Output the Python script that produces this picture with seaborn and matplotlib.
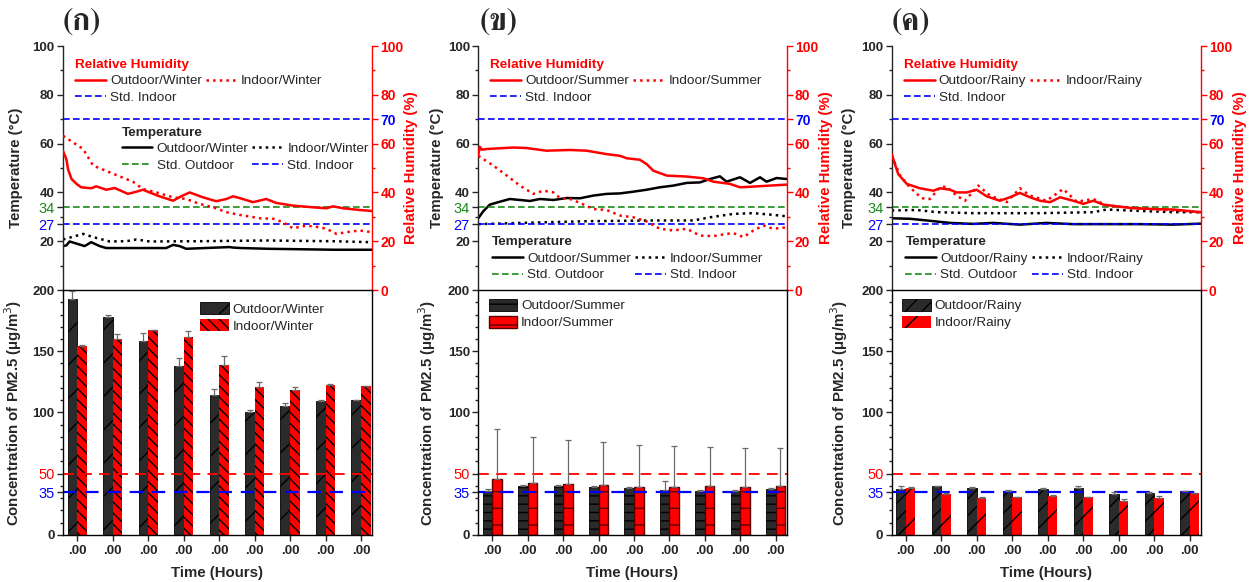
import matplotlib
matplotlib.use("Agg")
import numpy as np
import pandas as pd
import matplotlib.pyplot as plt
import seaborn as sns
from matplotlib import font_manager as fm
from matplotlib.ticker import FixedLocator, MultipleLocator

# ---------------- data ----------------
PANEL_TITLES = ["(ก)", "(ข)", "(ค)"]
SEASONS = ["Winter", "Summer", "Rainy"]
HOUR_LABELS = [".00", ".00", ".00", ".00", ".00", ".00", ".00", ".00", ".00"]

# Relative humidity / temperature time series (time in hours from start)
w_rh_out_t = [0, 0.09, 0.13, 0.22, 0.35, 0.47, 0.73, 0.86, 1.12, 1.34, 1.68, 1.90, 2.07, 2.24, 2.50, 2.85, 3.06,
              3.28, 3.62, 3.97, 4.23, 4.40, 4.57, 4.92, 5.26, 5.52, 5.95, 6.47, 6.82, 6.99, 7.25, 7.68, 8.0]
w_rh_out = [57, 53.5, 49.5, 45.5, 43.5, 42.1, 41.7, 42.5, 41.1, 41.8, 39.4, 40.3, 41.1, 40.0, 38.4, 36.6, 38.4,
            40.0, 38.0, 36.4, 37.3, 38.4, 37.7, 36.0, 37.3, 35.7, 34.6, 33.9, 33.5, 34.3, 33.5, 32.8, 32.4]
w_rh_in_t = [0, 0.52, 0.78, 1.21, 1.81, 2.07, 2.42, 2.85, 3.19, 3.54, 3.88, 4.23, 4.57, 5.09, 5.44, 5.70, 5.95,
             6.30, 6.65, 6.82, 7.08, 7.34, 7.68, 8.0]
w_rh_in = [63.2, 57.8, 51, 48.2, 44.4, 41.4, 40.0, 38, 37.3, 35.3, 33.9, 31.9, 30.8, 29.4, 29.2, 27.8, 25.3,
           26.4, 25.7, 25.1, 23, 23.7, 24.4, 23.7]
w_t_out_t = [0, 0.09, 0.17, 0.56, 0.73, 0.95, 1.12, 1.81, 2.67, 2.85, 3.02, 3.19, 4.31, 4.40, 4.62, 5.31, 6.17,
             7.04, 8.0]
w_t_out = [18.0, 18.3, 19.9, 18.0, 19.6, 18.0, 17.2, 17.2, 17.2, 18.5, 18.0, 16.9, 17.6, 17.4, 17.2, 16.9, 16.7,
           16.5, 16.5]
w_t_in_t = [0, 0.52, 0.78, 1.21, 1.64, 1.90, 2.24, 3.54, 5.26, 6.99, 8.0]
w_t_in = [20.7, 23.0, 21.7, 19.9, 20.0, 20.7, 19.9, 20.0, 20.3, 20.0, 19.6]

s_rh_out_t = [0, 0.04, 0.09, 0.22, 0.91, 1.25, 1.77, 2.38, 2.81, 3.33, 3.68, 3.85, 4.19, 4.37, 4.54, 4.89, 5.41,
              5.84, 6.10, 6.53, 6.79, 7.14, 7.57, 8.0]
s_rh_out = [55.5, 58.7, 57.5, 57.8, 58.4, 58.2, 57.1, 57.4, 57.1, 55.7, 55.0, 54.0, 53.4, 51.6, 48.9, 46.9, 46.5,
            45.8, 44.4, 43.5, 42.1, 42.4, 42.8, 43.2]
s_rh_in_t = [0, 0.39, 0.74, 1.08, 1.43, 1.69, 1.95, 2.12, 2.38, 2.64, 2.98, 3.33, 3.68, 4.02, 4.37, 4.71, 5.06,
             5.41, 5.75, 6.10, 6.44, 6.62, 6.88, 7.14, 7.40, 7.65, 8.0]
s_rh_in = [55, 51, 46.9, 42.8, 39.4, 40.7, 40, 37.7, 37.3, 35.7, 33.2, 32.8, 30.5, 29.8, 28.1, 25.1, 24.4,
           25.1, 22.3, 22.1, 23, 23.3, 21.7, 24.4, 26.4, 25.1, 25.7]
s_t_out_t = [0, 0.13, 0.30, 0.56, 0.82, 1.08, 1.34, 1.60, 1.95, 2.29, 2.64, 2.98, 3.33, 3.68, 4.02, 4.37, 4.71,
             5.06, 5.41, 5.75, 6.01, 6.27, 6.44, 6.79, 7.05, 7.31, 7.48, 7.74, 8.0]
s_t_out = [29.4, 32.3, 35, 36.2, 37.3, 36.9, 36.5, 37.3, 36.9, 37.7, 37.6, 38.7, 39.4, 39.6, 40.3, 41.1, 42.1,
           42.8, 43.9, 44.1, 45.5, 46.6, 44.4, 46.2, 43.9, 46.2, 44.4, 45.9, 45.5]
s_t_in_t = [0, 1.08, 2.81, 4.54, 5.58, 6.01, 6.62, 7.14, 7.65, 8.0]
s_t_in = [27.0, 27.5, 28.2, 28.5, 28.5, 29.8, 31.2, 31.5, 30.8, 30.2]

r_rh_out_t = [0, 0.17, 0.39, 0.73, 1.08, 1.25, 1.51, 1.68, 1.94, 2.20, 2.46, 2.80, 3.06, 3.32, 3.58, 3.84, 4.10,
              4.36, 4.70, 4.96, 5.22, 5.48, 5.83, 6.26, 6.77, 7.29, 8.0]
r_rh_out = [55.7, 47.5, 43.5, 41.7, 40.7, 41.7, 41.1, 40, 40, 41.1, 38.4, 36.6, 38, 39.8, 38, 36.6, 36,
            38, 36.6, 35.3, 36.6, 35, 34.3, 33.5, 33.2, 33, 31.9]
r_rh_in_t = [0, 0.22, 0.47, 0.78, 0.99, 1.25, 1.42, 1.68, 1.90, 2.24, 2.55, 2.98, 3.32, 3.58, 4.01, 4.44, 4.79,
             5.22, 5.57, 6.08, 6.77, 7.29, 8.0]
r_rh_in = [55, 46.9, 42.1, 37.6, 37.3, 42.1, 42.4, 38.7, 36.6, 42.8, 38.7, 36, 41.7, 38.7, 36.6, 41.4, 36.2,
           37.3, 34.6, 33.9, 33.2, 32.6, 31.9]
r_t_out_t = [0, 0.47, 0.91, 1.51, 2.11, 2.63, 3.32, 4.01, 4.70, 5.57, 6.43, 7.29, 8.0]
r_t_out = [29.4, 29.2, 28.5, 27.5, 27.1, 27.5, 26.8, 27.5, 27, 27, 27, 26.8, 27.2]
r_t_in_t = [0, 0.65, 1.17, 2.11, 3.84, 5.22, 5.57, 6.43, 7.29, 8.0]
r_t_in = [32.6, 32.8, 31.9, 31.5, 31.5, 31.9, 33, 32.4, 31.9, 31.9]

# PM2.5 hourly means and (upper) errors
w_pm_out = [192.6, 177.9, 158.2, 137.7, 113.9, 100.8, 104.9, 109.3, 110.1]
w_pm_out_err = [7, 2, 7, 7, 5.5, 1.5, 3, 0.5, 0.5]
w_pm_in = [154, 159.8, 167.2, 161.7, 138.5, 120.5, 118, 122.1, 121.3]
w_pm_in_err = [1.5, 4, 0.3, 5, 7.5, 4, 3, 1, 0.3]
s_pm_out = [36.1, 39.6, 40.2, 39.3, 38.5, 36.9, 36.1, 36.3, 37.7]
s_pm_out_err = [1.3, 1, 0.3, 0.3, 0.3, 6.8, 0.3, 0.3, 0.3]
s_pm_in = [45.9, 42.6, 41.5, 40.7, 39.3, 39.3, 40.2, 39.3, 40.2]
s_pm_in_err = [40.7, 37.4, 36.4, 35, 34.2, 33.4, 31.7, 31.7, 30.8]
r_pm_out = [37.7, 39.6, 38.5, 36.3, 37.7, 38.5, 33.6, 33.9, 36.1]
r_pm_out_err = [2.5, 0.4, 0.8, 0.4, 0.3, 1.7, 1.4, 1.1, 0.2]
r_pm_in = [38.5, 33.6, 30.3, 30.6, 32, 30.6, 28.1, 29.8, 33.9]
r_pm_in_err = [0.5, 0.3, 0.3, 0.3, 0.5, 0.8, 1.1, 2.2, 0.5]

STD_T_OUT, STD_T_IN, STD_RH_IN = 34, 27, 70
STD_PM_A, STD_PM_B = 50, 35

# ---------------- style ----------------
sns.set_style("ticks")
plt.rcParams["font.family"] = ["Liberation Sans", "DejaVu Sans"]
plt.rcParams["hatch.linewidth"] = 1.0
plt.rcParams["axes.linewidth"] = 1.0


def pick_thai_font():
    try:
        from fontTools.ttLib import TTFont
    except Exception:
        return None
    best, best_score = None, -1
    for f in fm.fontManager.ttflist:
        try:
            tt = TTFont(f.fname, fontNumber=0, lazy=True)
            cmap = tt.getBestCmap() or {}
        except Exception:
            continue
        if all(c in cmap for c in (0x0E01, 0x0E02, 0x0E04)):
            n = f.name.lower()
            score = 0
            if "serif" in n and "sans" not in n:
                score += 4
            if "looped" in n:
                score += 2
            w = f.weight
            if w == "bold" or (isinstance(w, int) and w >= 700):
                score += 1
            if score > best_score:
                best, best_score = f.name, score
    return best


THAI = pick_thai_font()
TITLE_FAMILY = ([THAI] if THAI else []) + ["DejaVu Serif"]

RED = "#ff0000"
BLUE = "#0000ff"
GREEN = "#1a8a1a"
DARK = "#2b2b2b"

fig = plt.figure(figsize=(12.55, 5.82), dpi=100)

PANELS = [
    dict(x=0.0502, w=0.2462, tx=0.0655, season="Winter",
         rh=((w_rh_out_t, w_rh_out), (w_rh_in_t, w_rh_in)), tt=((w_t_out_t, w_t_out), (w_t_in_t, w_t_in)),
         pm=((w_pm_out, w_pm_out_err), (w_pm_in, w_pm_in_err)),
         hatches=("/", "\\\\\\"), temp_leg=(0.185, 0.675), bar_leg=(0.44, 0.955), in_edge="none",
         tl=-0.13, bl=-0.125),
    dict(x=0.3811, w=0.2457, tx=0.397, season="Summer",
         rh=((s_rh_out_t, s_rh_out), (s_rh_in_t, s_rh_in)), tt=((s_t_out_t, s_t_out), (s_t_in_t, s_t_in)),
         pm=((s_pm_out, s_pm_out_err), (s_pm_in, s_pm_in_err)),
         hatches=("--", "-"), temp_leg=(0.04, 0.225), bar_leg=(0.03, 0.97), in_edge="#5a0000",
         tl=-0.11, bl=-0.13),
    dict(x=0.7105, w=0.2462, tx=0.726, season="Rainy",
         rh=((r_rh_out_t, r_rh_out), (r_rh_in_t, r_rh_in)), tt=((r_t_out_t, r_t_out), (r_t_in_t, r_t_in)),
         pm=((r_pm_out, r_pm_out_err), (r_pm_in, r_pm_in_err)),
         hatches=("//", "/"), temp_leg=(0.04, 0.225), bar_leg=(0.03, 0.97), in_edge="none",
         tl=-0.115, bl=-0.135),
]

TOP_Y, TOP_H = 0.5017, 0.4192
BOT_Y, BOT_H = 0.0808, 0.4209
TICK_FS = 9.5
LAB_FS = 10.8
LEG_FS = 9.7

for i, P in enumerate(PANELS):
    season = P["season"]
    # ---------- top panel: temperature + RH ----------
    ax = fig.add_axes([P["x"], TOP_Y, P["w"], TOP_H])
    ax2 = ax.twinx()
    (rt_o, rv_o), (rt_i, rv_i) = P["rh"]
    (tt_o, tv_o), (tt_i, tv_i) = P["tt"]

    sns.lineplot(x=tt_o, y=tv_o, ax=ax, color="black", lw=1.8, estimator=None, sort=False)
    sns.lineplot(x=tt_i, y=tv_i, ax=ax, color="black", lw=1.8, ls=":", estimator=None, sort=False)
    ax.axhline(STD_T_OUT, color=GREEN, ls=(0, (4, 2)), lw=1.2)
    ax.axhline(STD_T_IN, color=BLUE, ls=(0, (4, 2)), lw=1.2)
    h_t_out, h_t_in, h_std_out, h_std_in = ax.lines[0], ax.lines[1], ax.lines[2], ax.lines[3]

    sns.lineplot(x=rt_o, y=rv_o, ax=ax2, color=RED, lw=1.8, estimator=None, sort=False)
    sns.lineplot(x=rt_i, y=rv_i, ax=ax2, color=RED, lw=1.8, ls=":", estimator=None, sort=False)
    ax2.axhline(STD_RH_IN, color=BLUE, ls=(0, (4, 2)), lw=1.2)
    h_rh_out, h_rh_in, h_rh_std = ax2.lines[0], ax2.lines[1], ax2.lines[2]

    ax.set_xlim(0, 8)
    ax.set_ylim(0, 100)
    ax2.set_ylim(0, 100)
    for a in (ax, ax2):
        a.spines["top"].set_visible(False)
        a.spines["bottom"].set_visible(False)
        a.tick_params(axis="x", which="both", bottom=False, labelbottom=False)
        a.set_xlabel("")
    ax.spines["right"].set_visible(False)
    ax2.spines["left"].set_visible(False)
    ax2.spines["right"].set_color(RED)

    lticks = [20, STD_T_IN, STD_T_OUT, 40, 60, 80, 100]
    ax.yaxis.set_major_locator(FixedLocator(lticks))
    ax.yaxis.set_minor_locator(FixedLocator([10, 30, 50, 70, 90]))
    ax.set_yticklabels([str(v) for v in lticks])
    ax.tick_params(axis="y", which="major", direction="out", length=4, width=1, labelsize=TICK_FS, pad=2)
    ax.tick_params(axis="y", which="minor", direction="out", length=2.5, width=1)
    for v, lab in zip(lticks, ax.get_yticklabels()):
        if v == STD_T_IN:
            lab.set_color(BLUE); lab.set_fontsize(10.5)
        elif v == STD_T_OUT:
            lab.set_color(GREEN); lab.set_fontsize(10.5)
        else:
            lab.set_fontweight("bold")

    rticks = [0, 20, 40, 60, STD_RH_IN, 80, 100]
    ax2.yaxis.set_major_locator(FixedLocator(rticks))
    ax2.yaxis.set_minor_locator(FixedLocator([10, 30, 50, 90]))
    ax2.set_yticklabels([str(v) for v in rticks])
    ax2.tick_params(axis="y", which="major", direction="out", length=4, width=1, labelsize=TICK_FS + 0.5,
                    colors=RED, pad=2)
    ax2.tick_params(axis="y", which="minor", direction="out", length=2.5, width=1, colors=RED)
    for v, lab in zip(rticks, ax2.get_yticklabels()):
        lab.set_fontweight("bold")
        if v == STD_RH_IN:
            lab.set_color(BLUE)

    ax.set_ylabel("Temperature (°C)", fontsize=LAB_FS, fontweight="bold")
    ax.yaxis.set_label_coords(P["tl"], 0.5)
    ax2.set_ylabel("Relative Humidity (%)", fontsize=LAB_FS, fontweight="bold", color=RED)
    ax2.yaxis.set_label_coords(1.105, 0.5)

    leg1 = ax2.legend(handles=[h_rh_out, h_rh_std, h_rh_in],
                      labels=[f"Outdoor/{season}", "Std. Indoor", f"Indoor/{season}"],
                      ncol=2, loc="upper left", bbox_to_anchor=(0.035, 0.953), frameon=False,
                      title="Relative Humidity", alignment="left",
                      prop={"size": LEG_FS}, title_fontproperties={"weight": "bold", "size": LEG_FS},
                      handlelength=2.3, handletextpad=0.3, columnspacing=0.3, labelspacing=0.3,
                      borderpad=0.1, borderaxespad=0)
    leg1.get_title().set_color(RED)
    ax2.add_artist(leg1)
    leg2 = ax2.legend(handles=[h_t_out, h_std_out, h_t_in, h_std_in],
                      labels=[f"Outdoor/{season}", "Std. Outdoor", f"Indoor/{season}", "Std. Indoor"],
                      ncol=2, loc="upper left", bbox_to_anchor=P["temp_leg"], frameon=False,
                      title="Temperature", alignment="left",
                      prop={"size": LEG_FS}, title_fontproperties={"weight": "bold", "size": LEG_FS},
                      handlelength=2.3, handletextpad=0.3, columnspacing=0.3, labelspacing=0.3,
                      borderpad=0.1, borderaxespad=0)

    # ---------- bottom panel: PM2.5 bars ----------
    bx = fig.add_axes([P["x"], BOT_Y, P["w"], BOT_H])
    (po, poe), (pi, pie) = P["pm"]
    n = len(po)
    df = pd.DataFrame({
        "hour": list(range(n)) * 2,
        "pm": list(po) + list(pi),
        "loc": ["Outdoor"] * n + ["Indoor"] * n,
    })
    sns.barplot(data=df, x="hour", y="pm", hue="loc", hue_order=["Outdoor", "Indoor"],
                palette=[DARK, RED], saturation=1, width=0.54, errorbar=None, legend=False, ax=bx)
    cont_out, cont_in = bx.containers[0], bx.containers[1]
    for p in cont_out.patches:
        p.set_hatch(P["hatches"][0]); p.set_edgecolor("black"); p.set_linewidth(0.6)
    for p in cont_in.patches:
        p.set_hatch(P["hatches"][1])
        if P["in_edge"] == "none":
            p.set_edgecolor("black"); p.set_linewidth(0)
        else:
            p.set_edgecolor(P["in_edge"]); p.set_linewidth(1.0)
    for cont, errs in ((cont_out, poe), (cont_in, pie)):
        xs = [p.get_x() + p.get_width() / 2 for p in cont.patches]
        ys = [p.get_height() for p in cont.patches]
        bx.errorbar(xs, ys, yerr=[np.zeros(len(errs)), errs], fmt="none", ecolor="#6a6a6a",
                    elinewidth=0.9, capsize=2.2, capthick=0.9, zorder=4)
    bx.axhline(STD_PM_A, color=RED, ls=(0, (6, 4)), lw=1.3, zorder=1)
    bx.axhline(STD_PM_B, color=BLUE, ls=(0, (6, 4)), lw=1.6, zorder=1)

    bx.set_ylim(0, 200)
    bx.set_xlim(-0.4, n - 1 + 0.31)
    bticks = [0, STD_PM_B, STD_PM_A, 100, 150, 200]
    bx.yaxis.set_major_locator(FixedLocator(bticks))
    bx.yaxis.set_minor_locator(MultipleLocator(10))
    bx.set_yticklabels([str(v) for v in bticks])
    bx.tick_params(axis="y", which="major", direction="out", length=4, width=1, labelsize=TICK_FS, pad=2)
    bx.tick_params(axis="y", which="minor", direction="out", length=2.5, width=1)
    for v, lab in zip(bticks, bx.get_yticklabels()):
        if v == STD_PM_B:
            lab.set_color(BLUE); lab.set_fontsize(10.5)
        elif v == STD_PM_A:
            lab.set_color(RED); lab.set_fontsize(10.5)
        else:
            lab.set_fontweight("bold")
    bx.set_xticks(range(n))
    bx.set_xticklabels(HOUR_LABELS)
    bx.tick_params(axis="x", direction="out", length=4, width=1, labelsize=TICK_FS)
    for lab in bx.get_xticklabels():
        lab.set_fontweight("bold")
    for s in bx.spines.values():
        s.set_visible(True); s.set_color("black"); s.set_linewidth(1.0)
    bx.set_xlabel("Time (Hours)", fontsize=LAB_FS, fontweight="bold", labelpad=6)
    bx.set_ylabel("Concentration of PM2.5 (μg/m$^3$)", fontsize=LAB_FS, fontweight="bold")
    bx.yaxis.set_label_coords(P["bl"], 0.5)

    bx.legend(handles=[cont_out.patches[0], cont_in.patches[0]],
              labels=[f"Outdoor/{season}", f"Indoor/{season}"],
              loc="upper left", bbox_to_anchor=P["bar_leg"], frameon=False, prop={"size": LEG_FS},
              handlelength=2.1, handleheight=1.0, handletextpad=0.3, labelspacing=0.25,
              borderpad=0.1, borderaxespad=0)

    fig.text(P["tx"], 0.962, PANEL_TITLES[i], fontsize=22, fontweight="bold", family=TITLE_FAMILY,
             ha="center", va="center")

fig.savefig("out.png", dpi=100)
